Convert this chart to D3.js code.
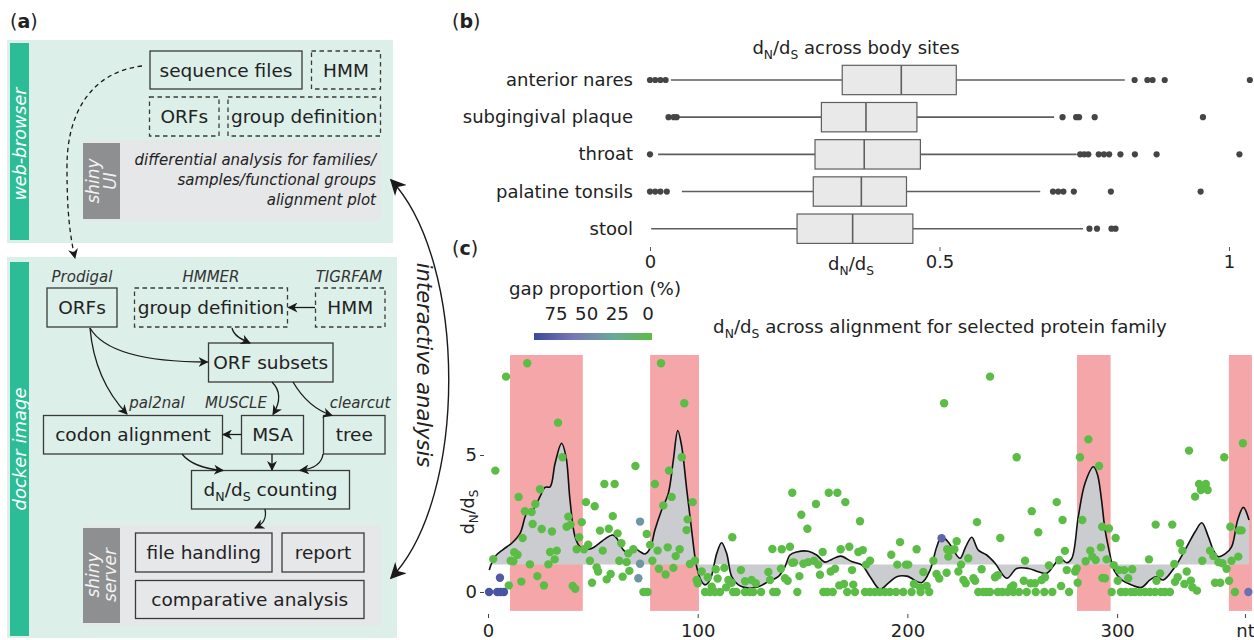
<!DOCTYPE html>
<html><head><meta charset="utf-8">
<script src="https://cdn.jsdelivr.net/npm/d3@7"></script>
<style>html,body{margin:0;padding:0;background:#fff;}svg{display:block;font-family:"DejaVu Sans",sans-serif;}</style>
</head><body><svg id="c" width="1254" height="640"></svg>
<script>
// ---------------- Panel (b) data ----------------
const sites = ["anterior nares","subgingival plaque","throat","palatine tonsils","stool"];
const whiskerLow  = [0.036,0.050,0.014,0.055,0.002];
const q1          = [0.332,0.296,0.285,0.282,0.254];
const median      = [0.434,0.373,0.370,0.365,0.350];
const q3          = [0.529,0.461,0.467,0.443,0.454];
const whiskerHigh = [0.820,0.698,0.737,0.674,0.748];
const outliers = [
  [0,0.009,0.018,0.027,0.837,0.859,0.868,0.889,1.036],
  [0.032,0.041,0.046,0.7125,0.736,0.741,0.768,0.955],
  [0,0.743,0.750,0.757,0.775,0.784,0.793,0.8125,0.8375,0.875,1.018],
  [0,0.009,0.018,0.029,0.696,0.705,0.714,0.732,0.796,0.951],
  [0.759,0.772,0.797,0.804]
];
const bTicks = [0,0.5,1];
const bTickLabels = ["0","0.5","1"];

// ---------------- Panel (c) data ----------------
const xTicks = [0,100,200,300,361];
const xTickLabels = ["0","100","200","300","nt"];
const yTicks = [0,5];
const legendTicks = [75,50,25,0];
const bandStart = [10.5,77.3,280.9,353.3];
const bandEnd   = [45.2,100.6,296.9,364.3];
// sites with no gaps (gap proportion 0)
const sitePos = [18.7,8.6,33.4,35.5,3.5,70.3,55.5,60.4,24.8,14.6,46.7,50.9,22.6,17.6,20.8,59.5,38.3,44.7,21.3,37.5,39.4,25.6,30.5,53.4,57.6,61.8,16.5,43.5,63.6,47.8,12.5,14.1,29.6,32.8,42.3,45.8,54.7,69.3,66.9,2.5,10.8,12.1,31.8,20,28.8,48.6,62.6,66.1,51.8,52.5,67.4,58.5,56.6,64.2,23.5,15.9,49.6,9.9,26.7,40.4,41.6,
 82.5,93.6,92.4,86.3,79.6,87.6,97.6,83.6,145.1,95.2,94.7,75.7,116.5,77.3,85.7,91.4,80.9,135.6,140.1,144,89.5,78.4,96.3,98.7,145.1,81.5,88.4,101.9,108.6,112.7,120.6,84.7,99.5,104.8,109.5,114.6,116.2,122.6,125.7,127.7,133.7,134.5,139.7,141.6,142.9,100,106.7,113.6,
 74.1,76.1,103.5,105.8,108.2,110.6,116.9,118.5,122.5,124.9,126.5,130.2,136,137.7,
 162.5,166.6,156.4,170.4,149.4,177.4,152.3,196.5,168.2,172.3,159.6,176.6,178.7,192.3,204.4,219,219.5,145.9,150.4,152.7,155.5,157.5,182.2,180.3,195.2,199.3,200.4,212.4,165.5,163.4,173.6,207.6,213.9,215.2,148.5,158.3,174.2,167.5,169.8,203.1,206,209.2,218.7,217.5,
 147.5,159.9,161.8,164.4,171.3,175,179.8,182.2,184.5,186.9,189.3,191.7,194.6,198,202,206.3,210.4,
 239.4,286.3,252.1,282.3,291.4,271.2,259.3,233.2,274,283.4,262.4,292.9,244.3,223.5,220.8,222.4,275.1,287.2,288.2,292.3,229,256.1,285,289.8,267.5,272.4,276,280,280.7,224.3,225.6,235.4,241.8,243.1,231.5,232.3,226.7,227.8,255.5,258.7,260.8,264,265.6,249.4,250.5,273.3,281.2,293,
 233.8,236.2,237.8,239.4,243.1,245.3,247.8,250.5,253.2,256.9,261.2,265.3,269.1,277.1,
 360,334.3,351.1,339.1,342.3,340,343.2,337.2,318.4,326.3,296.1,354,358.2,359.4,299.3,330,331.1,344.3,345.9,357.8,295,315.2,340.6,354.6,348.3,350.2,298.4,327.3,300.9,303.4,307.2,352.2,320.5,333.2,305.3,294.2,318.8,328.9,327.6,335.2,346.7,349.2,353.4,300.3,332.1,335.9,338.1,
 297.4,301.8,304,306.6,308.5,310.9,313.3,315.7,318.1,320.9,322.8,325.2,356.2];
const siteDnds = [8.35,7.86,6.18,4.92,4.43,4.6,3.94,3.94,3.75,3.47,3.28,3.13,3.21,2.95,2.92,2.77,2.75,2.55,2.48,2.38,2.46,2.3,2.21,2.24,2.31,2.14,1.97,2.0,1.78,1.73,1.45,1.36,1.46,1.51,1.56,1.56,1.51,1.56,1.41,1.2,1.14,1.12,1.19,1.01,1.01,1.14,1.14,1.09,0.9,0.75,0.77,0.66,0.46,0.56,0.58,0.38,0.34,0.24,0.24,0.22,0.12,
 8.35,6.89,4.92,4.43,3.94,3.47,3.28,3.16,3.62,2.65,2.26,2.12,2.0,1.72,1.63,1.56,1.51,1.57,1.56,1.65,1.31,1.14,1.02,1.14,1.07,0.85,0.88,0.75,0.83,0.88,0.8,0.64,0.44,0.54,0.49,0.44,0.34,0.39,0.44,0.32,0.73,0.44,0.85,0.5,0.41,0.32,0.19,0.17,
 0,0,0,0,0,0,0,0,0,0,0,0,0,0,
 3.62,3.62,3.21,3.28,2.82,2.58,2.31,1.82,1.56,1.65,1.46,1.46,1.53,1.36,1.56,1.56,1.29,1.08,1.03,1.09,1.14,1.0,1.14,1.0,1.0,1.0,1.0,1.14,0.85,0.75,0.8,0.73,0.66,0.49,0.58,0.63,0.27,0.24,0.29,0.29,0.17,0.22,0.7,6.89,
 0,0,0,0,0,0,0,0,0,0,0,0,0,0,0,0,0,
 7.86,5.57,4.92,4.92,4.6,3.28,2.95,2.55,2.63,2.63,2.18,2.38,1.97,1.85,1.53,1.56,1.5,1.51,1.29,1.63,1.23,1.14,1.12,1.17,0.97,1.17,0.8,0.75,0.86,0.75,1.0,0.83,0.54,0.61,0.5,0.41,0.44,0.32,0.41,0.32,0.32,0.44,0.54,0.17,0.24,0.22,0.34,0.51,
 0,0,0,0,0,0,0,0,0,0,0,0,0,0,
 5.43,5.16,4.92,3.94,3.94,3.72,3.72,3.48,2.46,2.46,2.32,2.38,2.25,2.25,1.97,1.78,1.51,1.51,1.31,1.29,1.19,1.19,1.14,1.14,1.09,1.05,0.98,1.02,0.8,0.8,0.83,0.85,0.68,0.75,0.5,0.5,0.41,0.54,0.37,0.41,0.34,0.34,0.41,0.41,0.29,0.17,0.05,
 0,0,0,0,0,0,0,0,0,0,0,0,0];
// sites containing alignment gaps
const gapSitePos  = [0.5,4.4,6.0,7.6,5.7,72.5,72.5,71.7,216.3,362.6];
const gapSiteDnds = [0,0,0,0,0.52,2.57,1.03,0.5,1.96,0];
const gapSitePct  = [92,92,92,92,88,45,45,45,80,72];
// smoothed dN/dS curve
const curvePos = [0.6,3.3,7.3,11.3,15.3,18.5,21.6,24.8,27.2,29.6,32,35.1,37.2,39.1,41.5,43.9,48.6,52.6,56,59.5,61.4,64.6,66.9,70.1,72.5,74.9,77.3,79.6,82.8,86,88.4,90.5,92.4,94.8,97.1,99.5,101.9,103.5,105.9,109.1,111.4,113.8,116.2,119.4,124.1,128.9,133.7,138.4,141.6,144,147.2,152.7,156.7,160.7,163.9,168.2,173.4,178.2,182.2,186.9,190.9,194.9,199.7,206.8,210.8,214,216.3,219.9,221.9,225.1,227.8,230.7,233.8,237.8,241.8,247.4,252.1,257.7,262.4,266.4,269.6,272.8,276,278.4,281.5,284.7,288.7,290.6,292.5,294.2,296.5,298.5,302.2,306.9,311.7,315.7,318.8,322,327.6,333.2,337.2,340.4,343.5,345.9,348.3,351.5,354.6,357.5,360.2,362.9];
const curveVal = [0.8,1.29,1.56,1.78,2.14,2.87,3.02,3.48,3.82,3.84,4.7,5.43,4.94,3.36,2.02,1.65,1.57,1.75,1.95,2.08,1.96,1.53,1.43,1.59,1.47,1.39,1.59,2.26,2.99,3.6,4.82,5.89,5.3,3.72,2.26,0.92,0.38,0.26,0.44,1.41,1.8,1.41,0.56,0.26,0.14,0.19,0.38,0.56,0.92,1.35,1.46,1.49,1.35,1.09,1.19,1.31,1.11,0.99,0.56,0.1,0.32,0.56,0.58,0.34,0.8,1.65,2.02,1.78,1.53,1.23,1.65,2.0,1.53,1.35,1.05,0.5,0.86,0.86,0.74,0.68,0.95,1.23,1.07,1.23,2.75,3.97,4.57,4.3,3.4,2.3,1.4,0.8,0.44,0.26,0.17,0.44,0.56,0.44,0.92,1.65,2.2,2.53,2.02,1.53,1.29,1.39,1.65,2.63,3.09,2.63];
const curveBaseline = 1;

// ---------------- drawing ----------------
const svg = d3.select("#c");
const FONT = "DejaVu Sans";
const defs = svg.append("defs");
function marker(id, size){
  defs.append("marker").attr("id",id).attr("viewBox","0 0 10 10").attr("refX",9).attr("refY",5)
    .attr("markerWidth",size).attr("markerHeight",size).attr("markerUnits","userSpaceOnUse")
    .attr("orient","auto-start-reverse")
    .append("path").attr("d","M0,0 L10,5 L0,10 L3,5 Z").attr("fill","#1a1a1a");
}
marker("ah",10); marker("ahBig",16);

function dnds(text, fs, prefix, suffix){
  const sub = fs*0.68, sh = fs*0.25;
  text.append("tspan").text((prefix||"")+"d");
  text.append("tspan").attr("font-size",sub).attr("dy",sh).text("N");
  text.append("tspan").attr("dy",-sh).text("/d");
  text.append("tspan").attr("font-size",sub).attr("dy",sh).text("S");
  if (suffix) text.append("tspan").attr("dy",-sh).text(suffix);
}
function panelLabel(x,y,letter){
  const t = svg.append("text").attr("x",x).attr("y",y).attr("font-size",19).attr("fill","#222");
  t.append("tspan").text("(");
  t.append("tspan").attr("font-weight","bold").text(letter);
  t.append("tspan").text(")");
}
panelLabel(10,28,"a"); panelLabel(452,28,"b"); panelLabel(452,255,"c");

// ===== Panel (a) diagram =====
const A = svg.append("g");
const mint = "#dcefe9", teal = "#2dbd96", grayArea = "#e6e7e9", grayLab = "#8e8f91";
A.append("rect").attr("x",7).attr("y",40).attr("width",386).attr("height",203).attr("fill",mint);
A.append("rect").attr("x",7).attr("y",257).attr("width",390).attr("height",381).attr("fill",mint);
A.append("rect").attr("x",10).attr("y",43).attr("width",19).attr("height",197).attr("fill",teal);
A.append("rect").attr("x",10).attr("y",262).attr("width",19).attr("height",374).attr("fill",teal);
function vtext(cx,cy,lines,fs,fill){
  const t = A.append("text").attr("transform",`translate(${cx},${cy}) rotate(-90)`)
    .attr("text-anchor","middle").attr("font-size",fs).attr("font-style","italic").attr("fill",fill);
  const n = lines.length;
  lines.forEach((l,i)=>t.append("tspan").attr("x",0).attr("y",(i-(n-1)/2)*fs*0.95 + fs*0.35).text(l));
}
vtext(19.5,144,["web-browser"],17.5,"#fff");
vtext(19.5,449,["docker image"],18,"#fff");
// shiny UI
A.append("rect").attr("x",83).attr("y",140).attr("width",298).attr("height",81).attr("fill",grayArea);
A.append("rect").attr("x",83).attr("y",143).attr("width",37).attr("height",76).attr("fill",grayLab);
vtext(101.5,181,["shiny","UI"],17,"#f2f2f2");
[["differential analysis for families/",165],["samples/functional groups",185],["alignment plot",205]].forEach(d=>{
  A.append("text").attr("x",376).attr("y",d[1]).attr("text-anchor","end").attr("font-size",15)
   .attr("font-style","italic").attr("fill","#222").text(d[0]);
});
// shiny server
A.append("rect").attr("x",83).attr("y",525).attr("width",298).attr("height",101).attr("fill",grayArea);
A.append("rect").attr("x",83).attr("y",528).attr("width",37).attr("height",95).attr("fill",grayLab);
vtext(101.5,575,["shiny","server"],17,"#f2f2f2");

const nodes = [
  {x:150,y:51,w:152,h:38,t:"sequence files"},
  {x:311.5,y:51,w:69,h:38,t:"HMM",dash:true},
  {x:149.5,y:97,w:69.5,h:39,t:"ORFs",dash:true},
  {x:228,y:97,w:152.5,h:39,t:"group definition",dash:true},
  {x:47,y:288,w:70,h:39,t:"ORFs"},
  {x:134.5,y:288,w:153,h:39,t:"group definition",dash:true},
  {x:315.5,y:288,w:69.5,h:39,t:"HMM",dash:true},
  {x:208.5,y:343,w:124.5,h:39,t:"ORF subsets"},
  {x:43.5,y:415.5,w:179,h:38.5,t:"codon alignment"},
  {x:241.5,y:415.5,w:62,h:38.5,t:"MSA"},
  {x:323.5,y:415.5,w:61.5,h:38.5,t:"tree"},
  {x:191.5,y:470.5,w:158,h:38.5,t:"DNDS"},
  {x:135.5,y:533,w:136.5,h:39,t:"file handling"},
  {x:282,y:533,w:82,h:39,t:"report"},
  {x:135.5,y:580.5,w:228.5,h:38,t:"comparative analysis"}
];
nodes.forEach(n=>{
  A.append("rect").attr("x",n.x).attr("y",n.y).attr("width",n.w).attr("height",n.h)
   .attr("fill","none").attr("stroke","#3a3a3a").attr("stroke-width",1.3)
   .attr("stroke-dasharray",n.dash?"4.5,3.5":null);
  const t = A.append("text").attr("x",n.x+n.w/2).attr("y",n.y+n.h/2+6.5).attr("text-anchor","middle")
   .attr("font-size",18.5).attr("fill","#222");
  if (n.t==="DNDS") dnds(t,18.5,""," counting"); else t.text(n.t);
});
[["Prodigal",82,282],["HMMER",211,282],["TIGRFAM",349,282],["pal2nal",157,408],["MUSCLE",236,408],["clearcut",360,408]].forEach(d=>{
  A.append("text").attr("x",d[1]).attr("y",d[2]).attr("text-anchor","middle").attr("font-size",15)
   .attr("font-style","italic").attr("fill","#333").text(d[0]);
});
const arrows = [
  "M315,307.5 L288.5,307.5",
  "M232,328 C234,336 241,339 250,343",
  "M90,328 C104,352 145,362 207.5,362",
  "M90,328 C93,362 106,392 127,414",
  "M272,382 C282,392 280,403 273,414.5",
  "M293,382 C303,399 315,410 332,415.5",
  "M241.5,434.5 L223,434.5",
  "M182,454 C190,464 205,469 223,470.5",
  "M272,454 L272,470",
  "M323,454 C322,464 312,469 300,470.5",
  "M265,509 C267,519 263,524 255,528"
];
arrows.forEach(d=>A.append("path").attr("d",d).attr("fill","none").attr("stroke","#1a1a1a")
  .attr("stroke-width",1.3).attr("marker-end","url(#ah)"));
A.append("path").attr("d","M142,66 C92,72 66,112 67,170 C67,212 70,236 75,258")
  .attr("fill","none").attr("stroke","#1a1a1a").attr("stroke-width",1.3).attr("stroke-dasharray","4.5,3.5")
  .attr("marker-end","url(#ah)");
A.append("path").attr("d","M391,180 C468,262 468,498 391,578")
  .attr("fill","none").attr("stroke","#1a1a1a").attr("stroke-width",1.4)
  .attr("marker-start","url(#ahBig)").attr("marker-end","url(#ahBig)");
A.append("text").attr("transform","translate(417,365) rotate(90)").attr("text-anchor","middle")
  .attr("font-size",21).attr("font-style","italic").attr("fill","#222").text("interactive analysis");

// ===== Panel (b) boxplot =====
const B = svg.append("g");
const bx = d3.scaleLinear().domain([0,1]).range([650,1229]);
const by = d3.scaleBand().domain(sites).range([61.4,247.3]).paddingInner(0.21).paddingOuter(0.105);
const bt = B.append("text").attr("x",856).attr("y",54).attr("text-anchor","middle").attr("font-size",18).attr("fill","#222");
dnds(bt,18,""," across body sites");
sites.forEach((s,i)=>{
  const cy = by(s)+by.bandwidth()/2, h = by.bandwidth();
  B.append("text").attr("x",633).attr("y",cy+6).attr("text-anchor","end").attr("font-size",18).attr("fill","#222").text(s);
  B.append("line").attr("x1",bx(whiskerLow[i])).attr("x2",bx(q1[i])).attr("y1",cy).attr("y2",cy).attr("stroke","#5e5e5e").attr("stroke-width",1.6);
  B.append("line").attr("x1",bx(q3[i])).attr("x2",bx(whiskerHigh[i])).attr("y1",cy).attr("y2",cy).attr("stroke","#5e5e5e").attr("stroke-width",1.6);
  B.append("rect").attr("x",bx(q1[i])).attr("y",by(s)).attr("width",bx(q3[i])-bx(q1[i])).attr("height",h)
    .attr("fill","#e9e9ea").attr("stroke","#5e5e5e").attr("stroke-width",1.2);
  B.append("line").attr("x1",bx(median[i])).attr("x2",bx(median[i])).attr("y1",by(s)).attr("y2",by(s)+h).attr("stroke","#5e5e5e").attr("stroke-width",1.6);
  B.selectAll(null).data(outliers[i]).enter().append("circle").attr("cx",d=>bx(d)).attr("cy",cy).attr("r",3.1).attr("fill","#454545");
});
const bAxis = B.append("g").attr("transform","translate(0,247)")
  .call(d3.axisBottom(bx).tickValues(bTicks).tickFormat((d,i)=>bTickLabels[i]).tickSize(4).tickPadding(4));
bAxis.select(".domain").remove();
bAxis.selectAll("line").attr("stroke","#555");
bAxis.selectAll("text").attr("font-family",FONT).attr("font-size",18).attr("fill","#222");
const bl = B.append("text").attr("x",851).attr("y",270).attr("text-anchor","middle").attr("font-size",18).attr("fill","#222");
dnds(bl,18,"","");

// ===== Panel (c) =====
const C = svg.append("g");
const x = d3.scaleLinear().domain([0,300]).range([488,1117.1]);
const y = d3.scaleLinear().domain([0,5]).range([592,455]);
const plotTop = 8.65, plotBottom = -0.69;
const gapColor = d3.scaleLinear().domain([0,33,66,100]).range(["#5cbd46","#6aa79b","#7877b5","#3c4a9c"]);
bandStart.forEach((s,i)=>{
  C.append("rect").attr("x",x(s)).attr("y",y(plotTop)).attr("width",x(bandEnd[i])-x(s)).attr("height",y(plotBottom)-y(plotTop)).attr("fill","#f5a6a9");
});
const curve = curvePos.map((p,i)=>[p,curveVal[i]]);
C.append("path").datum(curve).attr("fill","#cbcccf")
  .attr("d",d3.area().x(d=>x(d[0])).y0(y(curveBaseline)).y1(d=>y(d[1])).curve(d3.curveCatmullRom));
C.append("path").datum(curve).attr("fill","none").attr("stroke","#111").attr("stroke-width",1.6)
  .attr("d",d3.line().x(d=>x(d[0])).y(d=>y(d[1])).curve(d3.curveCatmullRom));
C.selectAll(null).data(sitePos.map((p,i)=>[p,siteDnds[i]])).enter().append("circle")
  .attr("cx",d=>x(d[0])).attr("cy",d=>y(d[1])).attr("r",4.2).attr("fill",gapColor(0));
C.selectAll(null).data(gapSitePos.map((p,i)=>[p,gapSiteDnds[i],gapSitePct[i]])).enter().append("circle")
  .attr("cx",d=>x(d[0])).attr("cy",d=>y(d[1])).attr("r",4.2).attr("fill",d=>gapColor(d[2]));
const xa = C.append("g").attr("transform","translate(0,614)")
  .call(d3.axisBottom(x).tickValues(xTicks).tickFormat((d,i)=>xTickLabels[i]).tickSize(4).tickPadding(6));
xa.select(".domain").remove();
xa.selectAll("line").attr("stroke","#444");
xa.selectAll("text").attr("font-family",FONT).attr("font-size",18).attr("fill","#222");
const ya = C.append("g").attr("transform","translate(484,0)")
  .call(d3.axisLeft(y).tickValues(yTicks).tickFormat(d3.format("d")).tickSize(4).tickPadding(3));
ya.select(".domain").remove();
ya.selectAll("line").attr("stroke","#444");
ya.selectAll("text").attr("font-family",FONT).attr("font-size",18).attr("fill","#222");
const yl = C.append("text").attr("transform","translate(474,512) rotate(-90)").attr("text-anchor","middle").attr("font-size",17.5).attr("fill","#222");
dnds(yl,17.5,"","");
const ct = C.append("text").attr("x",940).attr("y",333).attr("text-anchor","middle").attr("font-size",18.2).attr("fill","#222");
dnds(ct,18.2,""," across alignment for selected protein family");
// legend
const grad = defs.append("linearGradient").attr("id","gapgrad");
[100,66,33,0].forEach((g,i)=>grad.append("stop").attr("offset",(i/3*100)+"%").attr("stop-color",gapColor(g)));
C.append("rect").attr("x",534).attr("y",333).attr("width",118).attr("height",7).attr("fill","url(#gapgrad)");
const lx = d3.scaleLinear().domain([0,75]).range([648,556]);
C.append("text").attr("x",595).attr("y",295).attr("text-anchor","middle").attr("font-size",18.2).attr("fill","#222").text("gap proportion (%)");
legendTicks.forEach(t=>C.append("text").attr("x",lx(t)).attr("y",320).attr("text-anchor","middle").attr("font-size",18.2).attr("fill","#222").text(t));
</script></body></html>
